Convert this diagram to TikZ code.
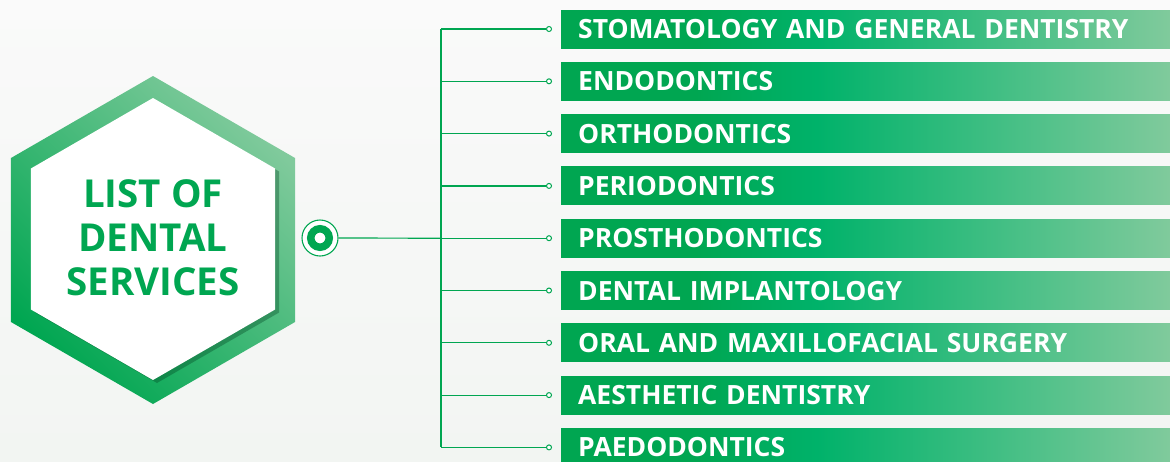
\documentclass[tikz,border=0pt]{standalone}
\usepackage{fontspec}
\setmainfont{Open Sans}
\usepackage{xcolor}
\definecolor{dgreen}{RGB}{0,166,81}
\definecolor{midgreen}{RGB}{0,178,106}
\definecolor{lgreen}{RGB}{128,202,156}
\definecolor{bgtop}{RGB}{250,250,250}
\definecolor{bgbot}{RGB}{242,245,242}
\usepackage{tikz}
\usetikzlibrary{shapes.geometric, shadows}
\pgfdeclarehorizontalshading{barfade}{100bp}{color(0bp)=(dgreen); color(25bp)=(dgreen); color(36bp)=(dgreen); color(46bp)=(midgreen); color(75bp)=(lgreen); color(100bp)=(lgreen)}
\tikzset{
  hexa/.style={regular polygon, regular polygon sides=6, shape border rotate=30, inner sep=0pt},
  bar/.style={anchor=west, shading=barfade, minimum width=609pt, minimum height=38pt,
              text width=575pt, inner xsep=17pt, inner ysep=0pt, align=left, text=white,
              font=\fontsize{26.5}{27}\selectfont\bfseries, text height=19pt, text depth=0pt},
  dot/.style={circle, draw=dgreen, fill=white, line width=1pt, minimum size=5pt, inner sep=0pt},
  link/.style={dgreen, line width=1.2pt}
}

\begin{document}
\begin{tikzpicture}[x=1pt, y=-1pt]
      % Background
      \clip (0,0) rectangle (1170,461);
      \shade[top color=bgtop, bottom color=bgbot] (0,0) rectangle (1170,461);
      % Hexagon
      \node[hexa, minimum size=328pt, bottom color=dgreen, middle color=dgreen!92!lgreen,
            top color=lgreen, shading angle=-45] (frame) at (153,240) {};
      \node[hexa, minimum size=282pt, fill=white,
            drop shadow={shadow xshift=4pt, shadow yshift=-3pt, fill=black!60!dgreen, opacity=.35}]
            (hex) at (153,239) {};
      \node[text=dgreen, align=center, font=\fontsize{38.5}{44}\selectfont\bfseries]
            (title) at (153,238) {LIST OF\\DENTAL\\SERVICES};
      % Hub
      \node[circle, draw=dgreen, fill=white, line width=1.1pt,
            minimum size=36pt, inner sep=0pt] (hub) at (320,238) {};
      \node[circle, draw=dgreen, line width=7.5pt,
            minimum size=18.5pt, inner sep=0pt] (hubring) at (hub) {};
      % Services
      \foreach \name [count=\i] in {STOMATOLOGY AND GENERAL DENTISTRY, ENDODONTICS,
            ORTHODONTICS, PERIODONTICS, PROSTHODONTICS, DENTAL IMPLANTOLOGY,
            ORAL AND MAXILLOFACIAL SURGERY, AESTHETIC DENTISTRY, PAEDODONTICS} {
        \pgfmathsetmacro\yy{29+(\i-1)*52.3}
        \coordinate (j\i) at (441,\yy);
        \node[dot] (d\i) at (549,\yy) {};
        \node[bar] (s\i) at (561,\yy) {\name};
        \draw[link] (j\i) -- (d\i);
      }
      % Trunk
      \draw[link] (j1) -- (j9);
      \draw[link] (hub) -- (j5);
    \end{tikzpicture}
\end{document}
